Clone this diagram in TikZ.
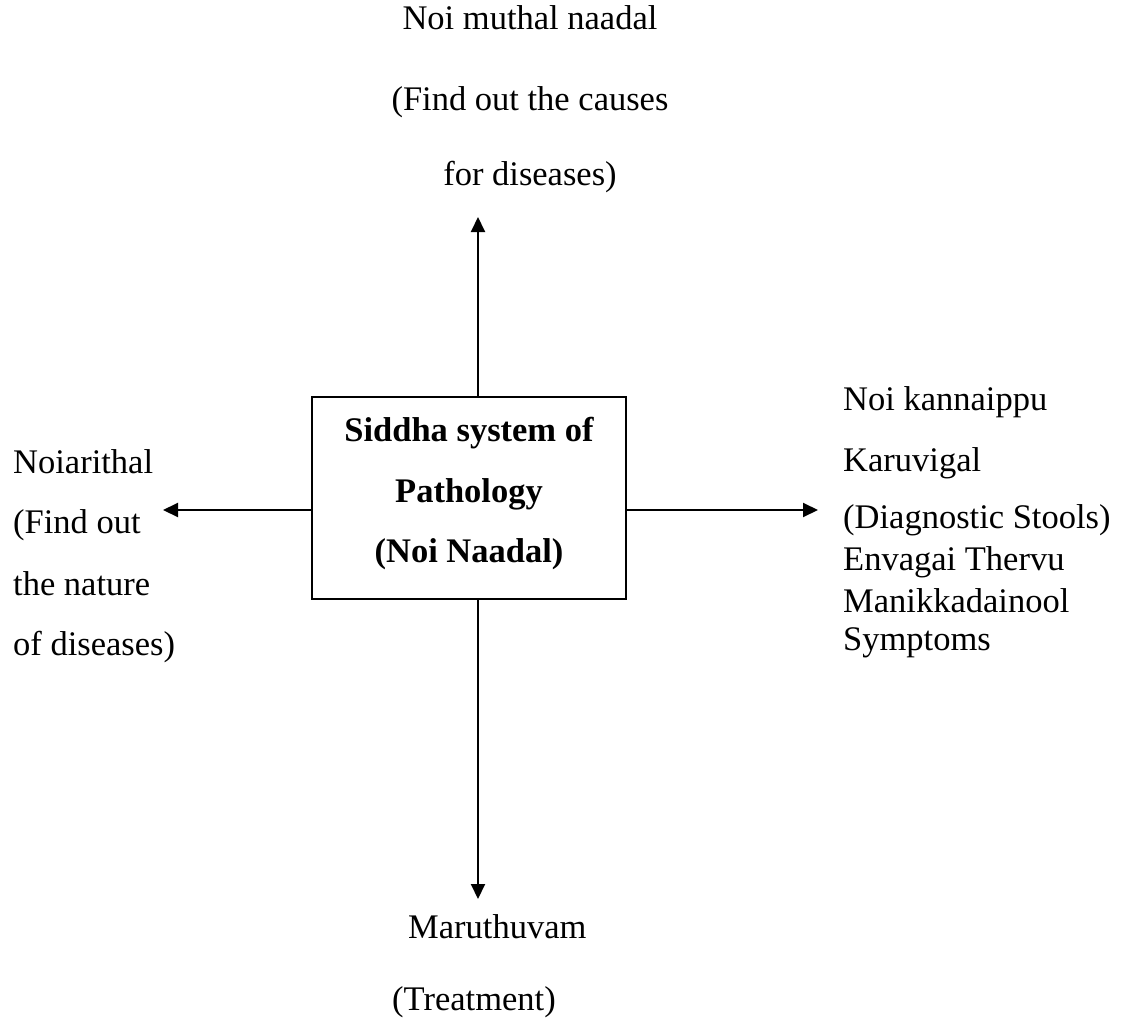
\documentclass[tikz,border=0pt]{standalone}
\usepackage{fontspec}
\setmainfont{Liberation Serif}
\usetikzlibrary{arrows.meta}
\begin{document}
\begin{tikzpicture}[x=1pt,y=-1pt,
  txt/.style={inner sep=0pt, font=\fontsize{34.5}{40}\selectfont},
  ttl/.style={inner sep=0pt, font=\fontsize{34.5}{40}\selectfont\bfseries},
  arr/.style={line width=2pt, -{Triangle[length=15pt,width=14pt]}},
  frame/.style={draw, line width=2pt, minimum width=314pt, minimum height=202pt, inner sep=0pt}]
\useasboundingbox (0,0) rectangle (1125,1036);

% central box
\node[frame] (box) at (469,498) {};
\node[ttl, anchor=base] (t1) at (469,441) {Siddha system of};
\node[ttl, anchor=base] (t2) at (469,502) {Pathology};
\node[ttl, anchor=base] (t3) at (469,562) {(Noi Naadal)};

% arrow axes
\coordinate (vx) at (478,0);
\coordinate (hy) at (0,510);
\coordinate (up) at (478,217);
\coordinate (down) at (478,899);
\coordinate (left) at (163,510);
\coordinate (right) at (818,510);
\draw[arr] (box.north -| vx) -- (up);
\draw[arr] (box.south -| vx) -- (down);
\draw[arr] (box.west |- hy) -- (left);
\draw[arr] (box.east |- hy) -- (right);

% top
\node[txt, anchor=base] (n1) at (530,30) {Noi muthal naadal};
\node[txt, anchor=base] (n2) at (530,110) {(Find out the causes};
\node[txt, anchor=base] (n3) at (530,185) {for diseases)};

% left
\node[txt, anchor=base west] (w1) at (13,473) {Noiarithal};
\node[txt, anchor=base west] (w2) at (13,533) {(Find out};
\node[txt, anchor=base west] (w3) at (13,595) {the nature};
\node[txt, anchor=base west] (w4) at (13,655) {of diseases)};

% right
\node[txt, anchor=base west] (e1) at (843,410) {Noi kannaippu};
\node[txt, anchor=base west] (e2) at (843,471) {Karuvigal};
\node[txt, anchor=base west] (e3) at (843,528) {(Diagnostic Stools)};
\node[txt, anchor=base west] (e4) at (843,570) {Envagai Thervu};
\node[txt, anchor=base west] (e5) at (843,612) {Manikkadainool};
\node[txt, anchor=base west] (e6) at (843,650) {Symptoms};

% bottom
\node[txt, anchor=base west] (s1) at (408,938) {Maruthuvam};
\node[txt, anchor=base west] (s2) at (392,1010) {(Treatment)};
\end{tikzpicture}
\end{document}
